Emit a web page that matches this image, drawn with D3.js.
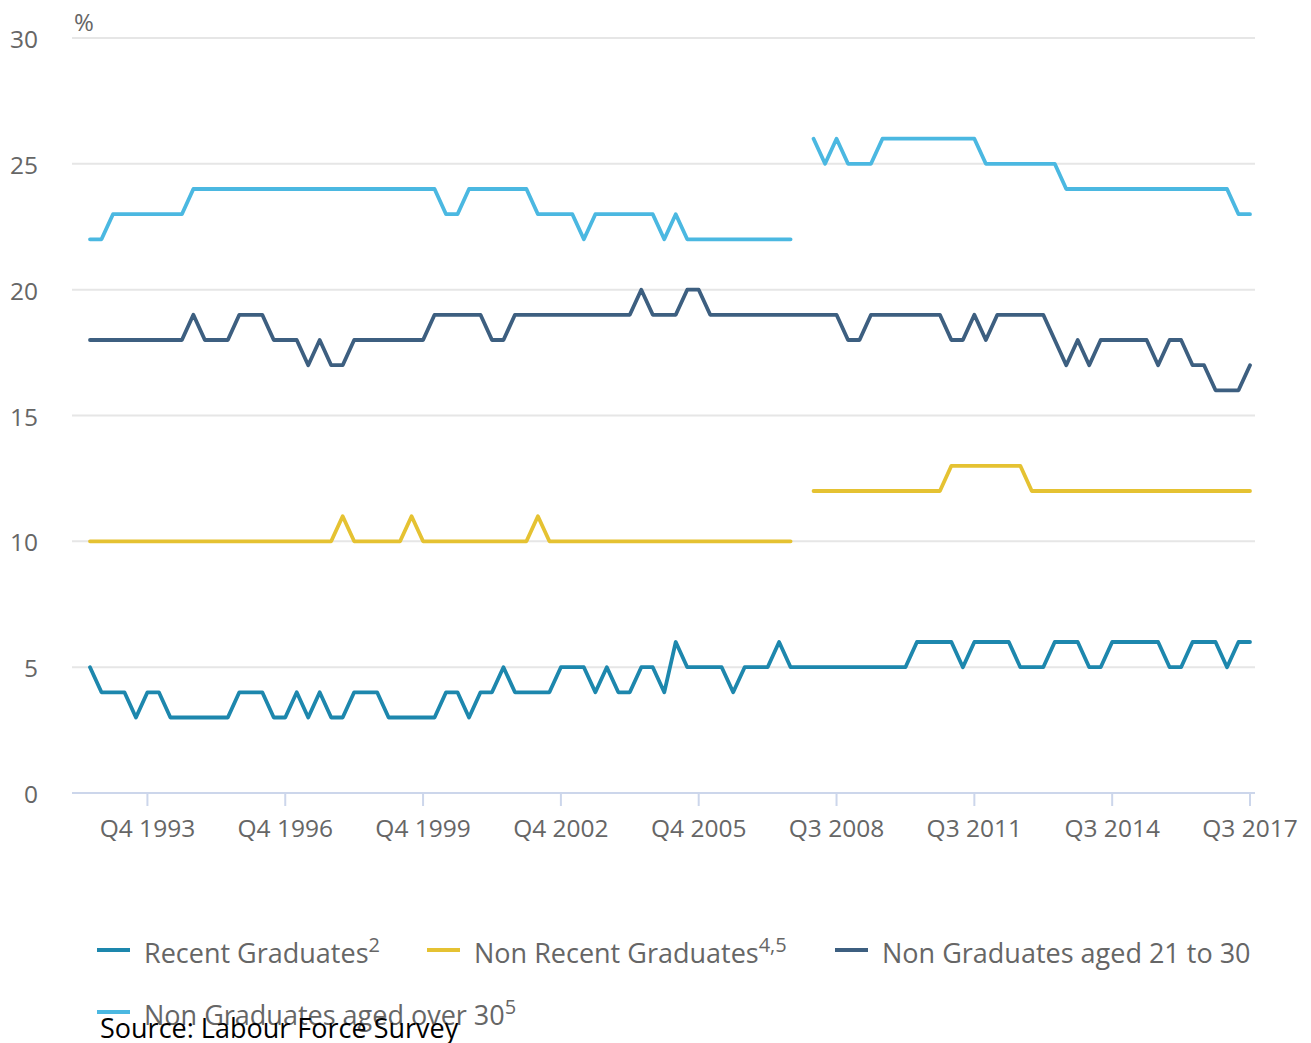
<!DOCTYPE html>
<html>
<head>
<meta charset="utf-8">
<script src="https://cdn.jsdelivr.net/npm/d3@7"></script>
<style>
  body { margin: 0; background: #fff; }
  svg { font-family: "Open Sans", sans-serif; }
</style>
</head>
<body>
<div id="chart"></div>
<script>
// quarters: Q3 1992 .. Q4 2007, one break slot, Q1 2008 .. Q3 2017
const tickIdx = [5, 17, 29, 41, 53, 65, 77, 89, 101];
const tickLabels = ["Q4 1993", "Q4 1996", "Q4 1999", "Q4 2002", "Q4 2005", "Q3 2008", "Q3 2011", "Q3 2014", "Q3 2017"];
const yTicks = [0, 5, 10, 15, 20, 25, 30];

const recentGrads = [5,4,4,4,3,4,4,3,3,3,3,3,3,4,4,4,3,3,4,3,4,3,3,4,4,4,3,3,3,3,3,4,4,3,4,4,5,4,4,4,4,5,5,5,4,5,4,4,5,5,4,6,5,5,5,5,4,5,5,5,6,5,5,5,5,5,5,5,5,5,5,5,6,6,6,6,5,6,6,6,6,5,5,5,6,6,6,5,5,6,6,6,6,6,5,5,6,6,6,5,6,6];
const nonRecentGrads = [10,10,10,10,10,10,10,10,10,10,10,10,10,10,10,10,10,10,10,10,10,10,11,10,10,10,10,10,11,10,10,10,10,10,10,10,10,10,10,11,10,10,10,10,10,10,10,10,10,10,10,10,10,10,10,10,10,10,10,10,10,10,null,12,12,12,12,12,12,12,12,12,12,12,12,13,13,13,13,13,13,13,12,12,12,12,12,12,12,12,12,12,12,12,12,12,12,12,12,12,12,12];
const nonGrads2130 = [18,18,18,18,18,18,18,18,18,19,18,18,18,19,19,19,18,18,18,17,18,17,17,18,18,18,18,18,18,18,19,19,19,19,19,18,18,19,19,19,19,19,19,19,19,19,19,19,20,19,19,19,20,20,19,19,19,19,19,19,19,19,19,19,19,19,18,18,19,19,19,19,19,19,19,18,18,19,18,19,19,19,19,19,18,17,18,17,18,18,18,18,18,17,18,18,17,17,16,16,16,17];
const nonGradsOver30 = [22,22,23,23,23,23,23,23,23,24,24,24,24,24,24,24,24,24,24,24,24,24,24,24,24,24,24,24,24,24,24,23,23,24,24,24,24,24,24,23,23,23,23,22,23,23,23,23,23,23,22,23,22,22,22,22,22,22,22,22,22,22,null,26,25,26,25,25,25,26,26,26,26,26,26,26,26,26,25,25,25,25,25,25,25,24,24,24,24,24,24,24,24,24,24,24,24,24,24,24,23,23];

const seriesNames = ["Recent Graduates", "Non Recent Graduates", "Non Graduates aged 21 to 30", "Non Graduates aged over 30"];
const seriesSup = ["2", "4,5", "", "5"];
const seriesColors = ["#1d87ad", "#e5c232", "#3d5f80", "#4bb8e1"];
const seriesData = [recentGrads, nonRecentGrads, nonGrads2130, nonGradsOver30];

const W = 1311, H = 1043;
const svg = d3.select("#chart").append("svg").attr("width", W).attr("height", H);

const x = d3.scaleLinear().domain([0, recentGrads.length - 1]).range([90, 1250]);
const y = d3.scaleLinear().domain([0, 30]).range([793, 38]);

// gridlines
svg.append("g").selectAll("line").data(yTicks.slice(1)).enter().append("line")
  .attr("x1", 72).attr("x2", 1255)
  .attr("y1", d => y(d)).attr("y2", d => y(d))
  .attr("stroke", "#e6e6e6").attr("stroke-width", 2);

// y labels
svg.append("g").selectAll("text").data(yTicks).enter().append("text")
  .attr("x", 38).attr("y", d => y(d) + 10)
  .attr("text-anchor", "end")
  .attr("font-size", 24.5).attr("fill", "#666")
  .text(d => d);

svg.append("text").attr("x", 74).attr("y", 31).attr("font-size", 24).attr("fill", "#666").text("%");

// x axis
svg.append("line").attr("x1", 72).attr("x2", 1255).attr("y1", 793).attr("y2", 793)
  .attr("stroke", "#ccd6eb").attr("stroke-width", 2);
const xt = svg.append("g").selectAll("g").data(tickIdx).enter().append("g");
xt.append("line")
  .attr("x1", d => x(d)).attr("x2", d => x(d)).attr("y1", 793).attr("y2", 806)
  .attr("stroke", "#ccd6eb").attr("stroke-width", 2);
xt.append("text")
  .attr("x", d => x(d)).attr("y", 837)
  .attr("text-anchor", "middle").attr("font-size", 24.5).attr("fill", "#666")
  .text((d, i) => tickLabels[i]);

// lines
const line = d3.line()
  .defined(d => d != null)
  .x((d, i) => x(i)).y(d => y(d));

svg.append("g").selectAll("path").data(seriesData).enter().append("path")
  .attr("d", line)
  .attr("fill", "none")
  .attr("stroke", (d, i) => seriesColors[i])
  .attr("stroke-width", 3.8)
  .attr("stroke-linejoin", "round")
  .attr("stroke-linecap", "round");

// legend
const legendPos = [[97, 950], [427, 950], [835, 950], [97, 1012]];
const lg = svg.append("g").selectAll("g").data(seriesNames).enter().append("g")
  .attr("transform", (d, i) => "translate(" + legendPos[i][0] + "," + legendPos[i][1] + ")");
lg.append("line").attr("x1", 0).attr("x2", 33).attr("y1", 0).attr("y2", 0)
  .attr("stroke", (d, i) => seriesColors[i]).attr("stroke-width", 4);
const lt = lg.append("text").attr("x", 47).attr("y", 13)
  .attr("font-size", 27).attr("fill", "#666");
lt.append("tspan").text(d => d);
lt.append("tspan").attr("dy", -11).attr("font-size", 20).text((d, i) => seriesSup[i]);

svg.append("text").attr("x", 100).attr("y", 1038)
  .attr("font-size", 27).attr("fill", "#000")
  .text("Source: Labour Force Survey");
</script>
</body>
</html>
